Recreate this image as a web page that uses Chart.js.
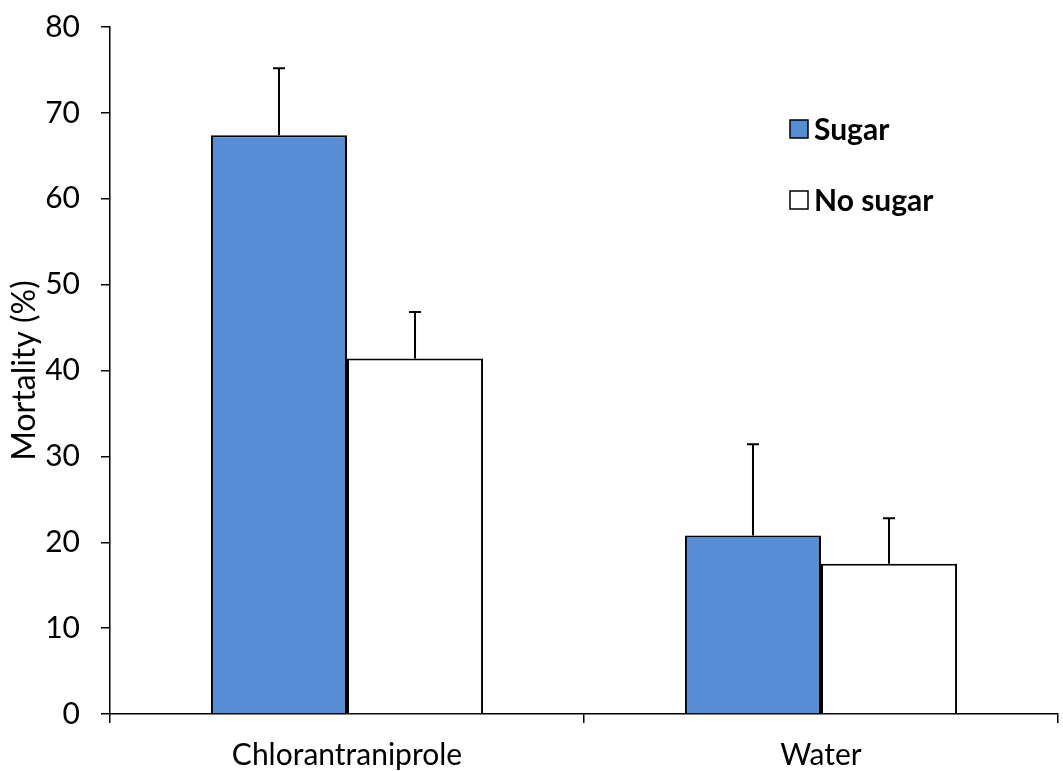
<!DOCTYPE html>
<html>
<head>
<meta charset="utf-8">
<script src="https://cdn.jsdelivr.net/npm/chart.js@4/dist/chart.umd.min.js"></script>
<style>
  html, body { margin: 0; padding: 0; background: #fff; }
  #wrap { width: 1063px; height: 771px; }
</style>
</head>
<body>
<div id="wrap"><canvas id="chart" width="1063" height="771"></canvas></div>
<script>
// data
const categories  = ['Chlorantraniprole', 'Water'];
const sugar       = [67.4, 20.8];
const noSugar     = [41.4, 17.5];
const sugarErr    = [7.8, 10.6];
const noSugarErr  = [5.4, 5.3];
const yTicks      = [0, 10, 20, 30, 40, 50, 60, 70, 80];

const FONT = 'Lato, "Open Sans", sans-serif';

// upward-only error bars with small cap
const errorBars = {
  id: 'errorBars',
  afterDatasetsDraw(chart) {
    const ctx = chart.ctx, y = chart.scales.y;
    chart.data.datasets.forEach((ds, i) => {
      const meta = chart.getDatasetMeta(i);
      meta.data.forEach((bar, j) => {
        const top = y.getPixelForValue(ds.data[j] + ds.errors[j]);
        ctx.save();
        ctx.strokeStyle = '#000';
        ctx.lineWidth = 2;
        ctx.beginPath();
        ctx.moveTo(bar.x, bar.y);
        ctx.lineTo(bar.x, top);
        ctx.moveTo(bar.x - 6, top);
        ctx.lineTo(bar.x + 6, top);
        ctx.stroke();
        ctx.restore();
      });
    });
  }
};

// legend drawn inside the plot, top right
const insideLegend = {
  id: 'insideLegend',
  afterDraw(chart) {
    const ctx = chart.ctx;
    const items = [
      { label: 'Sugar',    fill: '#558ed5', y: 129 },
      { label: 'No sugar', fill: '#ffffff', y: 200 }
    ];
    ctx.save();
    ctx.font = 'bold 30px ' + FONT;
    ctx.textBaseline = 'middle';
    items.forEach(it => {
      ctx.fillStyle = it.fill;
      ctx.fillRect(790, it.y - 9, 18, 18);
      ctx.strokeStyle = '#000';
      ctx.lineWidth = 1.5;
      ctx.strokeRect(790, it.y - 9, 18, 18);
      ctx.fillStyle = '#000';
      ctx.fillText(it.label, 814, it.y + 1);
    });
    ctx.restore();
  }
};

new Chart(document.getElementById('chart'), {
  type: 'bar',
  data: {
    labels: categories,
    datasets: [
      { label: 'Sugar', data: sugar, errors: sugarErr,
        backgroundColor: '#558ed5', borderColor: '#000', borderWidth: 2 },
      { label: 'No sugar', data: noSugar, errors: noSugarErr,
        backgroundColor: '#ffffff', borderColor: '#000', borderWidth: 2 }
    ]
  },
  options: {
    responsive: false,
    animation: false,
    categoryPercentage: 0.574,
    barPercentage: 1,
    layout: { padding: { top: 27, right: 5, left: 0, bottom: 0 } },
    plugins: { legend: { display: false }, tooltip: { enabled: false } },
    scales: {
      x: {
        afterFit(s) { s.height = 57; s.paddingLeft = 0; s.paddingRight = 0; },
        grid: { drawOnChartArea: false, color: '#000', lineWidth: 1.5, tickLength: 9 },
        border: { color: '#000', width: 1.5 },
        ticks: { color: '#000', font: { family: FONT, size: 30 }, padding: 14 }
      },
      y: {
        min: 0, max: 80,
        afterFit(s) { s.width = 110; s.paddingTop = 0; s.paddingBottom = 0; },
        afterBuildTicks(s) { s.ticks = yTicks.map(v => ({ value: v })); },
        grid: { drawOnChartArea: false, color: '#000', lineWidth: 1.5, tickLength: 9 },
        border: { color: '#000', width: 1.5 },
        ticks: { color: '#000', font: { family: FONT, size: 30 }, padding: 21 },
        title: { display: true, text: 'Mortality (%)', color: '#000',
                 font: { family: FONT, size: 32 }, padding: { top: 5, bottom: 0 } }
      }
    }
  },
  plugins: [errorBars, insideLegend]
});
</script>
</body>
</html>
